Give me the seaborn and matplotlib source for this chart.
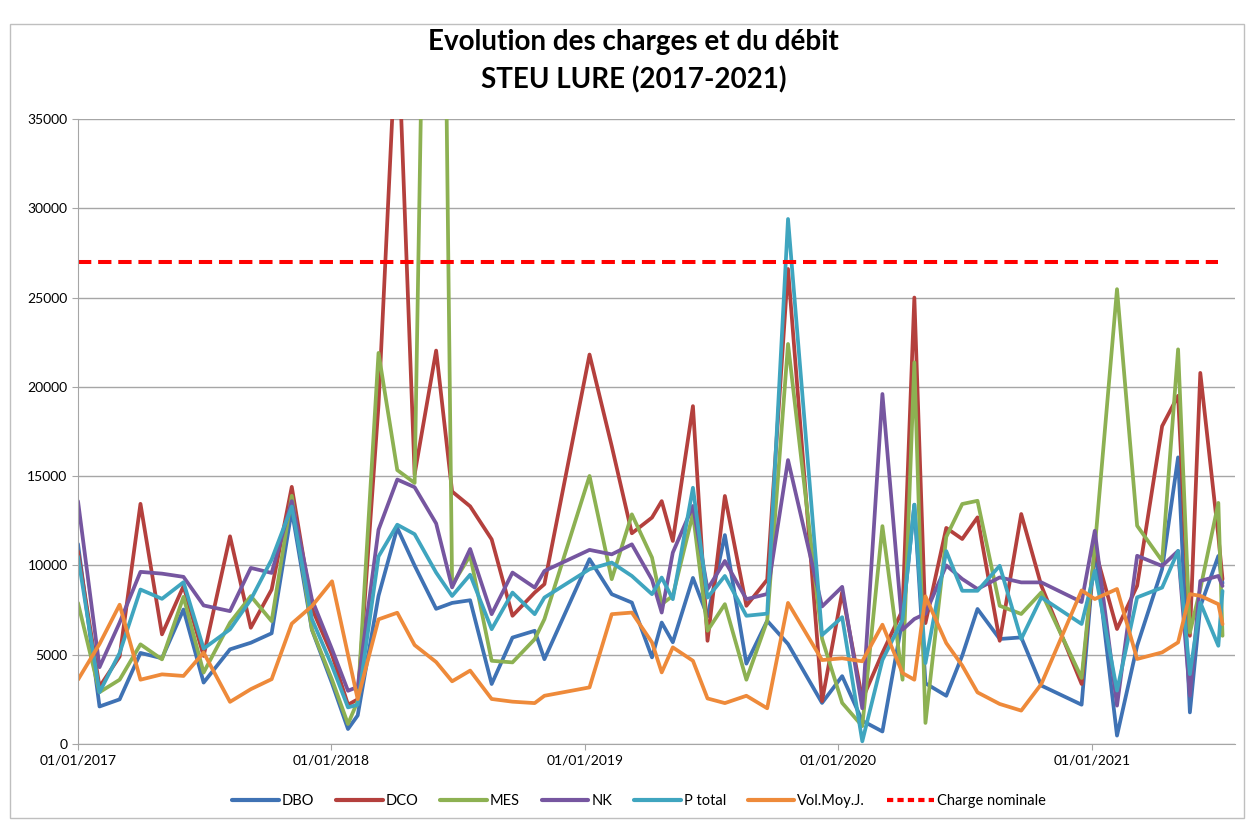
import matplotlib
matplotlib.use("Agg")
import matplotlib.pyplot as plt
import matplotlib.dates as mdates
from matplotlib.patches import Rectangle
from matplotlib.lines import Line2D
import numpy as np
import pandas as pd
import seaborn as sns

# dates des bilans
dates = ['2017-01-01', '2017-02-01', '2017-03-02', '2017-04-01', '2017-05-02', '2017-06-02',
         '2017-07-01', '2017-08-08', '2017-09-07', '2017-10-07', '2017-11-05', '2017-12-04',
         '2018-01-02', '2018-01-25', '2018-02-08', '2018-03-10', '2018-04-06', '2018-05-01',
         '2018-06-01', '2018-06-24', '2018-07-20', '2018-08-20', '2018-09-19', '2018-10-21',
         '2018-11-04',
         '2019-01-08', '2019-02-09', '2019-03-10', '2019-04-08', '2019-04-22', '2019-05-08',
         '2019-06-06', '2019-06-27', '2019-07-22', '2019-08-22', '2019-09-21', '2019-10-21',
         '2019-12-09',
         '2020-01-07', '2020-02-05', '2020-03-05', '2020-04-03', '2020-04-20', '2020-05-06',
         '2020-06-05', '2020-06-28', '2020-07-20', '2020-08-21', '2020-09-21', '2020-10-20',
         '2020-12-17',
         '2021-01-05', '2021-02-06', '2021-03-07', '2021-04-12', '2021-05-05', '2021-05-22',
         '2021-06-06', '2021-07-02', '2021-07-08']

dbo = [11200, 2100, 2500, 5100, 4800, 7530, 3440, 5300, 5670, 6200, 13100, 6400,
       3400, 840, 1600, 8300, 12100, 9990, 7570, 7900, 8050, 3360, 5960, 6340, 4750,
       10350, 8390, 7920, 4850, 6800, 5700, 9300, 7150, 11700, 4500, 6900, 5600, 2300,
       3800, 1300, 700, 7000, 13400, 3400, 2700, 4950, 7560, 5880, 5970, 3270, 2200,
       11000, 470, 5500, 9800, 16050, 1770, 7700, 10530, 9000]

dco = [10800, 3200, 4900, 13450, 6140, 8840, 4930, 11630, 6510, 8650, 14400, 7600,
       5000, 2200, 2500, 19000, 41000, 15100, 22030, 14140, 13310, 11460, 7180, 8480, 8950,
       21810, 16680, 11800, 12680, 13600, 11370, 18920, 5780, 13890, 7740, 9200, 26600, 2400,
       8500, 2500, 5100, 7500, 25000, 6770, 12100, 11480, 12690, 5780, 12880, 8860, 3360,
       10920, 6440, 8860, 17800, 19500, 6060, 20780, 11650, 9230]

mes = [7900, 2900, 3600, 5580, 4740, 8240, 4000, 6790, 8280, 6880, 13900, 6420,
       3600, 1120, 2400, 21900, 15340, 14620, 86000, 8890, 10560, 4660, 4570, 5870, 6990,
       15010, 9230, 12860, 10440, 7830, 8300, 12900, 6340, 7830, 3600, 6900, 22400, 5900,
       2300, 1000, 12200, 3600, 21370, 1180, 11600, 13440, 13620, 7740, 7280, 8490, 3700,
       11000, 25470, 12220, 10250, 22100, 6240, 8680, 13500, 6060]

nk = [13600, 4300, 6800, 9640, 9540, 9360, 7760, 7440, 9860, 9580, 13600, 8100,
      5300, 2980, 3200, 12000, 14810, 14380, 12350, 8770, 10920, 7270, 9600, 8760, 9690,
      10870, 10620, 11180, 9200, 7360, 10720, 13330, 8670, 10250, 8110, 8400, 15900, 7700,
      8800, 2000, 19600, 6400, 7000, 7300, 10000, 9240, 8680, 9330, 9050, 9050, 7950,
      11940, 2150, 10540, 9970, 10810, 2700, 9130, 9410, 8850]

p_total = [10500, 2900, 5100, 8650, 8130, 9060, 5340, 6420, 8090, 10330, 13300, 7000,
           4370, 2050, 2200, 10500, 12280, 11750, 9600, 8290, 9480, 6430, 8480, 7270, 8200,
           9790, 10160, 9410, 8390, 9320, 8110, 14350, 8200, 9410, 7180, 7300, 29400, 6100,
           7100, 150, 4700, 6960, 13400, 4530, 10800, 8580, 8580, 9980, 5880, 8210, 6720,
           9700, 2990, 8210, 8760, 10810, 3910, 7920, 5500, 8570]

vol = [3600, 5600, 7800, 3600, 3900, 3810, 5120, 2360, 3070, 3630, 6740, 7720,
       9110, 5000, 2510, 6980, 7350, 5540, 4590, 3510, 4110, 2520, 2370, 2290, 2700,
       3170, 7270, 7360, 5690, 4010, 5410, 4660, 2550, 2290, 2700, 2000, 7900, 4700,
       4800, 4630, 6680, 3970, 3600, 8270, 5650, 4390, 2890, 2240, 1870, 3360, 8600,
       8120, 8680, 4760, 5130, 5690, 8390, 8300, 7830, 6710]

charge_nominale = 27000

series = ['DBO', 'DCO', 'MES', 'NK', 'P total', 'Vol.Moy.J.']
colors = ['#3F72B4', '#B4403D', '#8DB152', '#7656A0', '#3FA5BF', '#EE8A3A']

df = pd.DataFrame({'date': pd.to_datetime(dates), 'DBO': dbo, 'DCO': dco, 'MES': mes,
                   'NK': nk, 'P total': p_total, 'Vol.Moy.J.': vol})
long_df = df.melt(id_vars='date', var_name='serie', value_name='valeur')

sns.set_style('white')
plt.rcParams['font.family'] = ['Lato', 'DejaVu Sans']
plt.rcParams['text.color'] = 'black'

fig = plt.figure(figsize=(12.5, 8.23), dpi=100)
ax = fig.add_axes([0.0624, 0.096, 0.9256, 0.7594])

sns.lineplot(data=long_df, x='date', y='valeur', hue='serie', hue_order=series,
             palette=dict(zip(series, colors)), linewidth=2.7, legend=False, ax=ax)

nom_df = pd.DataFrame({'date': pd.to_datetime([dates[0], dates[-2]]),
                       'valeur': [charge_nominale, charge_nominale]})
sns.lineplot(data=nom_df, x='date', y='valeur', color='#FF0000', linewidth=2.9,
             linestyle=(0, (3.3, 1.7)), ax=ax)

ax.set_ylim(0, 35000)
ax.set_xlim(pd.Timestamp('2017-01-01'), pd.Timestamp('2021-07-26'))
ax.set_yticks(np.arange(0, 35001, 5000))
ax.yaxis.grid(True, color='#A6A6A6', linewidth=1)
ax.set_axisbelow(True)
ax.xaxis.set_major_locator(mdates.YearLocator())
ax.xaxis.set_major_formatter(mdates.DateFormatter('%d/%m/%Y'))
ax.set_xlabel('')
ax.set_ylabel('')
for s in ['top', 'right']:
    ax.spines[s].set_visible(False)
for s in ['left', 'bottom']:
    ax.spines[s].set_color('#A6A6A6')
ax.tick_params(axis='both', labelsize=10, labelcolor='black', length=4,
               color='#A6A6A6', direction='out', left=True, bottom=True)

fig.text(0.507, 0.949, 'Evolution des charges et du débit', ha='center', va='center',
         fontsize=20, fontweight='bold', color='black')
fig.text(0.507, 0.903, 'STEU LURE (2017-2021)', ha='center', va='center',
         fontsize=20, fontweight='bold', color='black')

handles = [Line2D([], [], color=c, linewidth=3) for c in colors]
handles.append(Line2D([], [], color='#FF0000', linewidth=3, linestyle=(0, (1.5, 1))))
fig.legend(handles, series + ['Charge nominale'], loc='center', ncol=7,
           bbox_to_anchor=(0.511, 0.027), frameon=False, fontsize=10.5,
           handlelength=3.2, columnspacing=1.5, handletextpad=0.2)

fig.patches.append(Rectangle((0.008, 0.006), 0.987, 0.965, transform=fig.transFigure,
                             fill=False, edgecolor='#BFBFBF', linewidth=1))

fig.savefig('out.png', dpi=100)
